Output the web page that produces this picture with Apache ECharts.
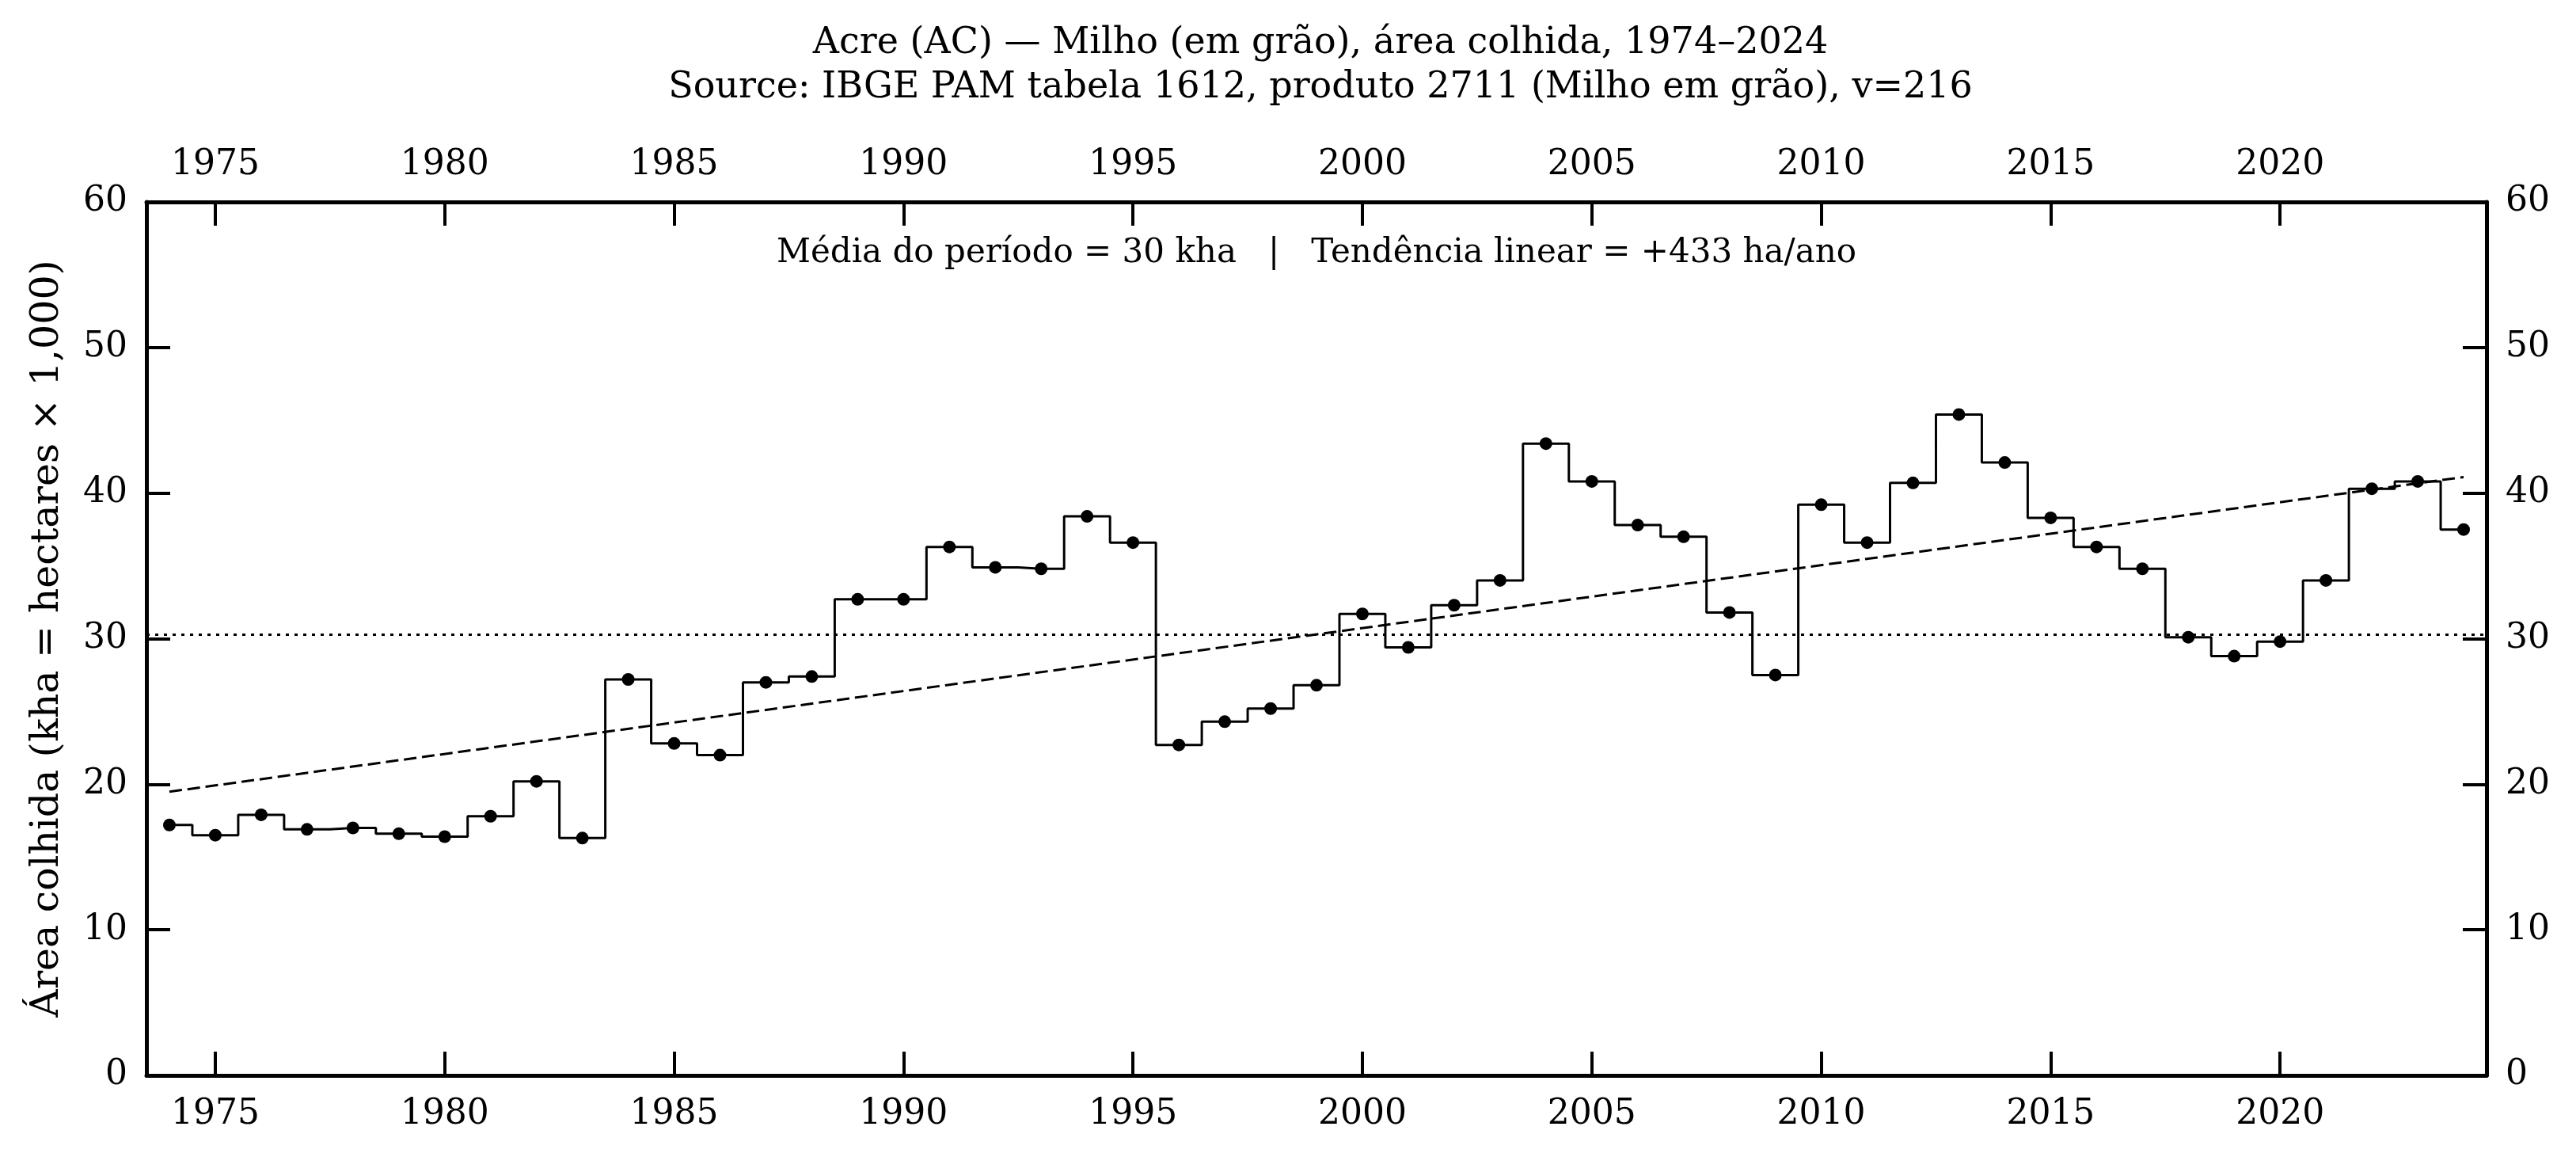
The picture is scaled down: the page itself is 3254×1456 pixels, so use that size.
<!DOCTYPE html>
<html>
<head>
<meta charset="utf-8">
<script src="https://cdn.jsdelivr.net/npm/echarts@6/dist/echarts.min.js"></script>
<style>
  html, body { margin: 0; padding: 0; background: #fff; }
  #chart { width: 3254px; height: 1456px; }
</style>
</head>
<body>
<div id="chart"></div>
<script>
// anos e área colhida (kha)
const years = [1974, 1975, 1976, 1977, 1978, 1979, 1980, 1981, 1982, 1983,
  1984, 1985, 1986, 1987, 1988, 1989, 1990, 1991, 1992, 1993,
  1994, 1995, 1996, 1997, 1998, 1999, 2000, 2001, 2002, 2003,
  2004, 2005, 2006, 2007, 2008, 2009, 2010, 2011, 2012, 2013,
  2014, 2015, 2016, 2017, 2018, 2019, 2020, 2021, 2022, 2023, 2024]
const area = [17.2, 16.5, 17.9, 16.9, 17.0, 16.6, 16.4, 17.8, 20.2, 16.3,
  27.2, 22.8, 22.0, 27.0, 27.4, 32.7, 32.7, 36.3, 34.9, 34.8,
  38.4, 36.6, 22.7, 24.3, 25.2, 26.8, 31.7, 29.4, 32.3, 34.0,
  43.4, 40.8, 37.8, 37.0, 31.8, 27.5, 39.2, 36.6, 40.7, 45.4,
  42.1, 38.3, 36.3, 34.8, 30.1, 28.8, 29.8, 34.0, 40.3, 40.8, 37.5]
const xTicks = [1975, 1980, 1985, 1990, 1995, 2000, 2005, 2010, 2015, 2020]
const yTicks = [0, 10, 20, 30, 40, 50, 60]

const titleText = 'Acre (AC) — Milho (em grão), área colhida, 1974–2024\nSource: IBGE PAM tabela 1612, produto 2711 (Milho em grão), v=216'
const noteText = 'Média do período = 30 kha   |   Tendência linear = +433 ha/ano'
const yName = 'Área colhida (kha = hectares × 1,000)'

// média e tendência linear (mínimos quadrados)
const n = years.length
const mean = area.reduce((a, b) => a + b, 0) / n
const mx = years.reduce((a, b) => a + b, 0) / n
let sxy = 0, sxx = 0
for (let i = 0; i < n; i++) {
  sxy += (years[i] - mx) * (area[i] - mean)
  sxx += (years[i] - mx) * (years[i] - mx)
}
const slope = sxy / sxx
const trend = [years[0], years[n - 1]].map(x => [x, mean + slope * (x - mx)])

const font = 'DejaVu Serif'
const black = '#000'

function xAxis(pos, margin) {
  return {
    type: 'value',
    position: pos,
    min: 1973.5,
    max: 2024.5,
    splitLine: { show: false },
    axisLine: { show: true, onZero: false, lineStyle: { color: black, width: 5 } },
    axisTick: { show: true, inside: true, length: 30, lineStyle: { color: black, width: 4 }, customValues: xTicks },
    axisLabel: {
      fontFamily: font, fontSize: 44, color: black, margin: margin,
      customValues: xTicks,
      formatter: (v) => String(v)
    }
  }
}
function yAxis(pos) {
  return {
    type: 'value',
    position: pos,
    min: 0,
    max: 60,
    interval: 10,
    splitLine: { show: false },
    axisLine: { show: true, onZero: false, lineStyle: { color: black, width: 5 } },
    axisTick: { show: true, inside: true, length: 30, lineStyle: { color: black, width: 4 } },
    axisLabel: { fontFamily: font, fontSize: 44, color: black, margin: 24 }
  }
}

const left = yAxis('left')
left.name = yName
left.nameLocation = 'middle'
left.nameGap = 100
left.nameTextStyle = { fontFamily: font, fontSize: 49, color: black }

const option = {
  backgroundColor: '#fff',
  animation: false,
  title: {
    text: titleText,
    left: 1663,
    textAlign: 'center',
    top: 22,
    textStyle: { fontFamily: font, fontSize: 46, fontWeight: 'normal', color: black, lineHeight: 56 }
  },
  graphic: [{
    type: 'text',
    x: 1663,
    y: 320,
    style: { text: noteText, fontFamily: font, fontSize: 42, fill: black, align: 'center', verticalAlign: 'middle' }
  }],
  grid: { left: 185, right: 113, top: 255, bottom: 98 },
  xAxis: [xAxis('bottom', 28), xAxis('top', 24)],
  yAxis: [left, yAxis('right')],
  series: [
    {
      type: 'line',
      step: 'middle',
      data: years.map((y, i) => [y, area[i]]),
      symbol: 'circle',
      symbolSize: 16,
      showAllSymbol: true,
      itemStyle: { color: black },
      lineStyle: { color: black, width: 3 },
      markLine: {
        silent: true,
        symbol: 'none',
        label: { show: false },
        lineStyle: { color: black, width: 3, type: [4, 7] },
        data: [{ yAxis: mean }]
      },
      z: 3
    },
    {
      type: 'line',
      data: trend,
      symbol: 'none',
      lineStyle: { color: black, width: 3, type: [16, 7] },
      z: 2
    }
  ]
}

const chart = echarts.init(document.getElementById('chart'))
chart.setOption(option)
</script>
</body>
</html>
